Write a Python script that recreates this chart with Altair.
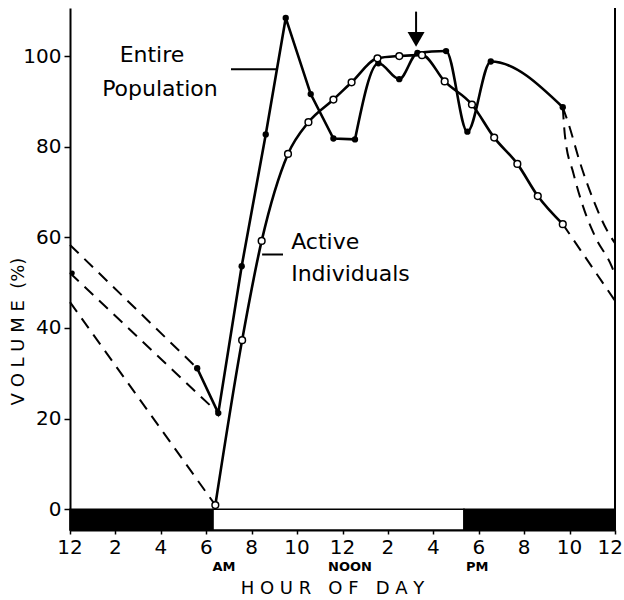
import altair as alt
import pandas as pd

# ---------------- data ----------------
# Entire population (filled dots)
ent_hours = [5.6, 6.53, 7.56, 8.62, 9.5, 10.6, 11.6, 12.55, 13.58, 14.5, 15.3, 16.56, 17.5, 18.53, 21.7]
ent_vol = [31.1, 21.2, 53.6, 82.7, 108.4, 91.6, 81.8, 81.6, 98.4, 94.9, 100.7, 101.1, 83.3, 98.8, 88.7]
ent_split = 7  # straight part up to index 7, smoothed afterwards

# Active individuals (open circles)
act_hours = [6.4, 7.58, 8.44, 9.6, 10.5, 11.6, 12.4, 13.54, 14.5, 15.5, 16.5, 17.7, 18.68, 19.7, 20.6, 21.7]
act_vol = [0.9, 37.3, 59.2, 78.4, 85.4, 90.4, 94.2, 99.5, 100.0, 100.2, 94.4, 89.3, 82.0, 76.2, 69.1, 62.9]

# Dashed extrapolations
dash_left_a_h = [0, 5.6]
dash_left_a_v = [58.3, 31.1]
dash_left_b_h = [0, 6.53]
dash_left_b_v = [52.1, 21.2]
dash_left_c_h = [0, 6.4]
dash_left_c_v = [45.7, 0.9]
dash_right_a_h = [21.7, 21.95, 22.47, 23.05, 23.64, 24]
dash_right_a_v = [88.7, 85.1, 76.3, 68.2, 61.6, 58.7]
dash_right_b_h = [21.7, 21.8, 22.17, 22.6, 23.13, 23.86, 24]
dash_right_b_v = [88.7, 82.2, 74.1, 66.7, 60.1, 53.5, 51.7]
dash_right_c_h = [21.7, 24]
dash_right_c_v = [62.9, 46.0]
extra_dot_h = [0.1]
extra_dot_v = [52.1]

# Light / dark bar
bar_start = [0, 6.3, 17.35]
bar_end = [6.3, 17.35, 24]
bar_kind = ["dark", "light", "dark"]

tick_values = list(range(0, 25, 2))
tick_labels = ["12", "2", "4", "6", "8", "10", "12", "2", "4", "6", "8", "10", "12"]
y_ticks = [0, 20, 40, 60, 80, 100]

FONT = "DejaVu Sans"
Y_MIN, Y_MAX = -4.6, 110.6

# ---------------- tables ----------------
ent_df = pd.DataFrame({"h": ent_hours, "v": ent_vol})
ent_a = ent_df.iloc[: ent_split + 1]
ent_b = ent_df.iloc[ent_split:]
act_df = pd.DataFrame({"h": act_hours, "v": act_vol})

dash_rows = []
for name, hs, vs in [
    ("la", dash_left_a_h, dash_left_a_v),
    ("lb", dash_left_b_h, dash_left_b_v),
    ("lc", dash_left_c_h, dash_left_c_v),
    ("ra", dash_right_a_h, dash_right_a_v),
    ("rb", dash_right_b_h, dash_right_b_v),
    ("rc", dash_right_c_h, dash_right_c_v),
]:
    for h, v in zip(hs, vs):
        dash_rows.append({"seg": name, "h": h, "v": v})
dash_df = pd.DataFrame(dash_rows)
extra_df = pd.DataFrame({"h": extra_dot_h, "v": extra_dot_v})

bar_df = pd.DataFrame({"h0": bar_start, "h1": bar_end, "kind": bar_kind,
                       "v0": [Y_MIN] * 3, "v1": [0] * 3})

tick_df = pd.DataFrame({"h": tick_values, "t": tick_labels})
tick_main = tick_df.iloc[:-1]
tick_last = tick_df.iloc[-1:]

xs = alt.Scale(domain=[0, 24], nice=False, zero=False)
ys = alt.Scale(domain=[Y_MIN, Y_MAX], nice=False, zero=False)

x_axis = alt.Axis(
    values=tick_values, labels=False,
    title="H O U R \u00a0 O F \u00a0 D A Y", titleFontSize=18, titleFontWeight="normal",
    titleX=262, titleY=58, titleBaseline="middle", titleAlign="center",
    tickSize=4, grid=False,
)
y_axis = alt.Axis(
    values=y_ticks, title="V O L U M E \u00a0(%)", titleFontSize=18, titleFontWeight="normal",
    titleX=-52, titleY=323, titleBaseline="middle", titleAlign="center", titleAngle=-90,
    labelFontSize=20, tickSize=6, labelPadding=3, grid=False,
)


def X(f="h"):
    return alt.X(f + ":Q", scale=xs, axis=x_axis)


def Y(f="v"):
    return alt.Y(f + ":Q", scale=ys, axis=y_axis)


bars = alt.Chart(bar_df).mark_rect(stroke="black", strokeWidth=1.5).encode(
    x=X("h0"), x2="h1", y=Y("v0"), y2="v1",
    fill=alt.Color("kind:N", scale=alt.Scale(domain=["dark", "light"], range=["black", "white"]), legend=None),
)

right_border = alt.Chart(pd.DataFrame({"h": [24], "a": [Y_MIN], "b": [Y_MAX]})).mark_rule(
    color="black", strokeWidth=2).encode(x=X(), y=Y("a"), y2="b")

dashes = alt.Chart(dash_df).mark_line(
    color="black", strokeWidth=2, strokeDash=[12, 8], interpolate="monotone"
).encode(x=X(), y=Y(), detail="seg:N")

ent_line_a = alt.Chart(ent_a).mark_line(color="black", strokeWidth=2.6).encode(x=X(), y=Y())
ent_line_b = alt.Chart(ent_b).mark_line(color="black", strokeWidth=2.6, interpolate="monotone").encode(x=X(), y=Y())
act_line = alt.Chart(act_df).mark_line(color="black", strokeWidth=2.6, interpolate="monotone").encode(x=X(), y=Y())

ent_pts = alt.Chart(ent_df).mark_point(filled=True, color="black", size=40, opacity=1).encode(x=X(), y=Y())
extra_pts = alt.Chart(extra_df).mark_point(filled=True, color="black", size=25, opacity=1).encode(x=X(), y=Y())
act_pts = alt.Chart(act_df).mark_point(shape="circle", fill="white", stroke="black", strokeWidth=1.5,
                                       size=45, opacity=1, filled=False).encode(x=X(), y=Y())

# x tick labels as text (last one pulled inside the page)
tick_text = alt.Chart(tick_main).mark_text(font=FONT, fontSize=20, align="center", baseline="middle",
                                          color="black").encode(x=X(), y=alt.value(540), text="t:N")
tick_text_last = alt.Chart(tick_last).mark_text(font=FONT, fontSize=20, align="right", baseline="middle",
                                               dx=8, color="black").encode(x=X(), y=alt.value(540), text="t:N")

# annotations
lab_df = pd.DataFrame({
    "t": ["Entire", "Population"],
    "h": [3.61, 3.96], "v": [100.2, 92.7],
})
labels_center = alt.Chart(lab_df).mark_text(font=FONT, fontSize=22, align="center", baseline="middle",
                                           color="black").encode(x=X(), y=Y(), text="t:N")
lab2_df = pd.DataFrame({"t": ["Active", "Individuals"], "h": [9.74, 9.74], "v": [58.9, 52.0]})
labels_left = alt.Chart(lab2_df).mark_text(font=FONT, fontSize=22, align="left", baseline="middle",
                                          color="black").encode(x=X(), y=Y(), text="t:N")

lead_df = pd.DataFrame({"h": [7.09, 8.46], "h2": [9.11, 9.38], "v": [97.1, 56.2]})
leaders = alt.Chart(lead_df).mark_rule(color="black", strokeWidth=2).encode(x=X(), x2="h2", y=Y())

arrow_shaft = alt.Chart(pd.DataFrame({"h": [15.24], "a": [109.8], "b": [104.0]})).mark_rule(
    color="black", strokeWidth=2).encode(x=X(), y=Y("a"), y2="b")
arrow_head = alt.Chart(pd.DataFrame({"h": [15.24], "v": [103.7]})).mark_point(
    shape="triangle-down", filled=True, color="black", size=289, opacity=1).encode(x=X(), y=Y())

ampm_df = pd.DataFrame({"t": ["AM", "NOON", "PM"], "h": [6.78, 12.33, 17.93]})
ampm = alt.Chart(ampm_df).mark_text(font=FONT, fontSize=13, fontWeight="bold", align="center",
                                    baseline="middle", color="black").encode(
    x=X(), y=alt.value(559), text="t:N")

chart = alt.layer(
    bars, right_border, dashes, ent_line_a, ent_line_b, act_line,
    ent_pts, extra_pts, act_pts, tick_text, tick_text_last, labels_center, labels_left, leaders,
    arrow_shaft, arrow_head, ampm,
).properties(
    width=545, height=522,
    autosize=alt.AutoSizeParams(type="none"),
    padding={"left": 70, "top": 8, "right": 9, "bottom": 70},
    background="white",
).configure_view(stroke=None).configure_axis(
    domainColor="black", domainWidth=2, tickColor="black", tickWidth=1.5,
    labelColor="black", titleColor="black", labelFont=FONT, titleFont=FONT,
).configure_text(font=FONT)

chart.save("out.html", embed_options={"renderer": "svg", "actions": False})
